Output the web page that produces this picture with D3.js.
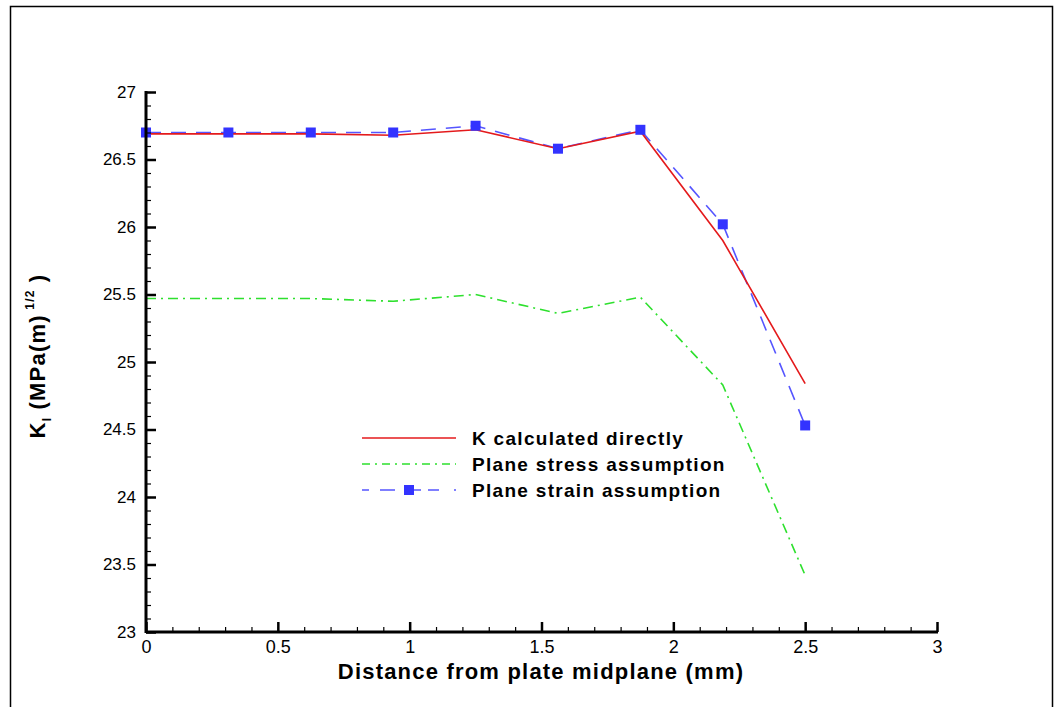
<!DOCTYPE html>
<html>
<head>
<meta charset="utf-8">
<script src="https://cdn.jsdelivr.net/npm/d3@7"></script>
<style>
  html, body { margin: 0; padding: 0; background: #fff; }
  svg { display: block; }
  text { font-family: "Liberation Sans", Arial, sans-serif; }
</style>
</head>
<body>
<svg id="chart" width="1058" height="707"></svg>
<script>
// Distance from plate midplane (mm)
const distances = [0, 0.3125, 0.625, 0.9375, 1.25, 1.5625, 1.875, 2.1875, 2.5];
// K_I values for each method
const kDirect = [26.69, 26.69, 26.69, 26.68, 26.72, 26.58, 26.71, 25.90, 24.84];
const kPlaneStress = [25.47, 25.47, 25.47, 25.45, 25.50, 25.36, 25.48, 24.83, 23.42];
const kPlaneStrain = [26.70, 26.70, 26.70, 26.70, 26.75, 26.58, 26.72, 26.02, 24.53];
const seriesNames = ["K calculated directly", "Plane stress assumption", "Plane strain assumption"];
const xTickValues = [0, 0.5, 1, 1.5, 2, 2.5, 3];
const yTickValues = [23, 23.5, 24, 24.5, 25, 25.5, 26, 26.5, 27];

const svg = d3.select("#chart");

// outer frame
svg.append("path")
  .attr("d", "M10.5,707 V6.5 H1052.5 V707")
  .attr("fill", "none").attr("stroke", "#000").attr("stroke-width", 1.5);

const x = d3.scaleLinear().domain([0, 3]).range([146, 937]);
const y = d3.scaleLinear().domain([23, 27]).range([632, 92]);

const styles = [
  { color: "#e41a1c", dash: null, width: 1.6 },
  { color: "#2ee02e", dash: "10,5,2,5", width: 1.6 },
  { color: "#5555ff", dash: "15,10", width: 1.6 }
];
const seriesData = [kDirect, kPlaneStress, kPlaneStrain];

const line = d3.line().x(d => x(d[0])).y(d => y(d[1]));

// draw order: stress, strain, direct on top
[1, 2, 0].forEach(i => {
  const pts = distances.map((d, j) => [d, seriesData[i][j]]);
  svg.append("path")
    .datum(pts)
    .attr("d", line)
    .attr("fill", "none")
    .attr("stroke", styles[i].color)
    .attr("stroke-width", styles[i].width)
    .attr("stroke-dasharray", styles[i].dash);
});

// square markers on the plane strain series
const ms = 10;
svg.append("g").selectAll("rect")
  .data(distances.map((d, j) => [d, kPlaneStrain[j]]))
  .join("rect")
  .attr("x", d => x(d[0]) - ms / 2)
  .attr("y", d => y(d[1]) - ms / 2)
  .attr("width", ms).attr("height", ms)
  .attr("fill", "#3333ff");

// axes with inward ticks
const minorX = d3.range(0, 3.0001, 0.1);
const minorY = d3.range(23, 27.0001, 0.1);

const gx = svg.append("g").attr("transform", "translate(0,632)");
gx.append("g").call(d3.axisTop(x).tickValues(minorX).tickSize(5).tickFormat(""))
  .call(g => g.select(".domain").remove())
  .selectAll("line").attr("stroke-width", 1.2);
gx.append("g").call(d3.axisTop(x).tickValues(xTickValues).tickSize(10).tickFormat(""))
  .call(g => g.select(".domain").remove())
  .selectAll("line").attr("stroke-width", 2.5);
gx.append("g").call(d3.axisBottom(x).tickValues(xTickValues).tickSize(0).tickPadding(8).tickFormat(d3.format("")))
  .call(g => g.select(".domain").remove())
  .selectAll("text").attr("font-size", 18).attr("fill", "#000");
gx.append("line").attr("x1", 146).attr("x2", 938).attr("y1", 0).attr("y2", 0)
  .attr("stroke", "#000").attr("stroke-width", 3);

const gy = svg.append("g").attr("transform", "translate(146,0)");
gy.append("g").call(d3.axisRight(y).tickValues(minorY).tickSize(5).tickFormat(""))
  .call(g => g.select(".domain").remove())
  .selectAll("line").attr("stroke-width", 1.2);
gy.append("g").call(d3.axisRight(y).tickValues(yTickValues).tickSize(10).tickFormat(""))
  .call(g => g.select(".domain").remove())
  .selectAll("line").attr("stroke-width", 2.5);
gy.append("g").call(d3.axisLeft(y).tickValues(yTickValues).tickSize(0).tickPadding(10).tickFormat(d3.format("")))
  .call(g => g.select(".domain").remove())
  .selectAll("text").attr("font-size", 17).attr("fill", "#000");
gy.append("line").attr("x1", 0).attr("x2", 0).attr("y1", 91).attr("y2", 633)
  .attr("stroke", "#000").attr("stroke-width", 3);

// axis titles
svg.append("text")
  .attr("x", 541).attr("y", 679)
  .attr("text-anchor", "middle")
  .attr("font-size", 22).attr("font-weight", "bold")
  .attr("letter-spacing", 1.2)
  .text("Distance from plate midplane (mm)");

const yt = svg.append("text")
  .attr("transform", "translate(45,356) rotate(-90)")
  .attr("text-anchor", "middle")
  .attr("font-size", 22).attr("font-weight", "bold")
  .attr("letter-spacing", 1.2);
yt.append("tspan").text("K");
yt.append("tspan").attr("font-size", 12).attr("dy", 6).text("I");
yt.append("tspan").attr("dy", -6).text("  (MPa(m)");
yt.append("tspan").attr("font-size", 12).attr("dy", -11).text(" 1/2");
yt.append("tspan").attr("dy", 11).text("  )");

// legend
const legend = svg.append("g");
seriesNames.forEach((name, i) => {
  const ly = 438 + i * 26;
  if (i === 2) {
    legend.append("line").attr("x1", 362).attr("x2", 456).attr("y1", ly).attr("y2", ly)
      .attr("stroke", styles[i].color).attr("stroke-width", 1.6)
      .attr("stroke-dasharray", "7,11,15,11,15");
    legend.append("rect").attr("x", 409 - ms / 2).attr("y", ly - ms / 2)
      .attr("width", ms).attr("height", ms).attr("fill", "#3333ff");
  } else {
    legend.append("line").attr("x1", 362).attr("x2", 456).attr("y1", ly).attr("y2", ly)
      .attr("stroke", styles[i].color).attr("stroke-width", 1.6)
      .attr("stroke-dasharray", i === 1 ? "8,5,2,5" : null);
  }
  legend.append("text").attr("x", 472).attr("y", ly + 7)
    .attr("font-size", 19).attr("font-weight", "bold").attr("fill", "#000")
    .attr("letter-spacing", 1.3)
    .text(name);
});
</script>
</body>
</html>
